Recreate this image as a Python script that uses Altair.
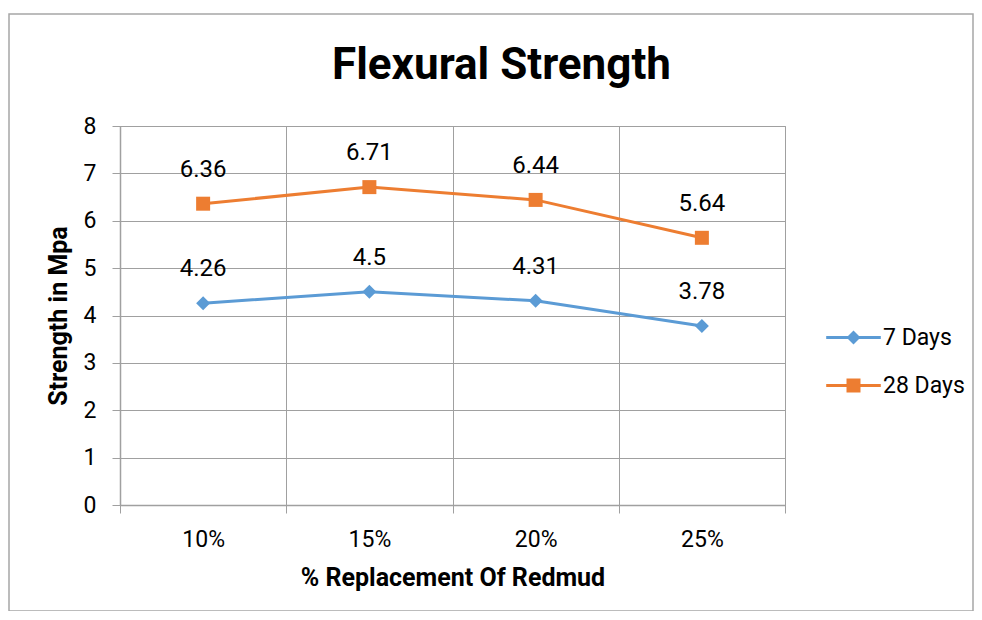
import altair as alt
import pandas as pd

categories = ["10%", "15%", "20%", "25%"]
days7 = [4.26, 4.5, 4.31, 3.78]
days28 = [6.36, 6.71, 6.44, 5.64]
series_names = ["7 Days", "28 Days"]
line_names = ["7 Days ", "28 Days "]
colors = ["#5B9BD5", "#ED7D31"]

rows = []
for c, v in zip(categories, days7):
    rows.append({"cat": c, "val": v, "series": series_names[0], "lineseries": line_names[0], "lbl": f"{v:g}"})
for c, v in zip(categories, days28):
    rows.append({"cat": c, "val": v, "series": series_names[1], "lineseries": line_names[1], "lbl": f"{v:g}"})
df = pd.DataFrame(rows)

FONT = "Roboto, Liberation Sans, sans-serif"

x_enc = alt.X("cat:N", sort=categories,
              scale=alt.Scale(paddingInner=0, paddingOuter=0),
              axis=alt.Axis(title="% Replacement Of Redmud", labelAngle=0,
                            tickBand="extent", grid=True, tickSize=8,
                            labelPadding=15, titlePadding=14))
y_enc = alt.Y("val:Q", scale=alt.Scale(domain=[0, 8], nice=False),
              axis=alt.Axis(title="Strength in Mpa", values=list(range(9)),
                            tickSize=8, labelPadding=16, titlePadding=12))

base = alt.Chart(df)

LEG_X, LEG_Y = 722, 200
common_leg = dict(orient="none", legendX=LEG_X, legendY=LEG_Y, title=None,
                  padding=0, labelFontSize=23, labelFont=FONT, labelColor="#000000",
                  labelOffset=18, rowPadding=24, symbolSize=196)

lines = base.mark_line(strokeWidth=3).encode(
    x=x_enc, y=y_enc,
    color=alt.Color("lineseries:N", sort=line_names,
                    scale=alt.Scale(domain=line_names, range=colors),
                    legend=alt.Legend(symbolType="M-3.9,0H3.9", symbolStrokeWidth=3,
                                      labelOpacity=0, **common_leg)),
)

points = base.mark_point(filled=True, opacity=1, strokeWidth=0).encode(
    x=x_enc, y=y_enc,
    fill=alt.Fill("series:N", sort=series_names,
                  scale=alt.Scale(domain=series_names, range=colors),
                  legend=alt.Legend(**common_leg)),
    shape=alt.Shape("series:N", sort=series_names,
                    scale=alt.Scale(domain=series_names, range=["diamond", "square"]),
                    legend=alt.Legend(**common_leg)),
    size=alt.value(196),
)

labels = base.mark_text(dy=-34, fontSize=24, font=FONT, color="#000000").encode(
    x=x_enc, y=y_enc, text="lbl:N"
)

frame = alt.Chart(pd.DataFrame({"a": [0]})).mark_rect(
    fill=None, stroke="#A6A6A6", strokeWidth=1.5
).encode(
    x=alt.value(-111), x2=alt.value(853), y=alt.value(-112), y2=alt.value(485)
)

chart = alt.layer(frame, lines, points, labels).properties(
    width=665, height=379,
    padding={"left": 112, "top": 118, "right": 189, "bottom": 106},
    autosize=alt.AutoSizeParams(type="none"),
    title=alt.TitleParams("Flexural Strength", fontSize=44, font=FONT,
                          fontWeight="bold", color="#000000", anchor="middle",
                          dx=49, offset=0, dy=75),
).configure_view(
    stroke="#A0A0A0", strokeWidth=1
).configure_axis(
    gridColor="#A0A0A0", gridWidth=1, domainColor="#A0A0A0", tickColor="#A0A0A0",
    labelFontSize=23, labelFont=FONT, labelColor="#000000",
    titleFontSize=25, titleFont=FONT, titleFontWeight="bold", titleColor="#000000",
    domainWidth=1.5,
)

chart.save("out.html", embed_options={"renderer": "svg", "actions": False})
